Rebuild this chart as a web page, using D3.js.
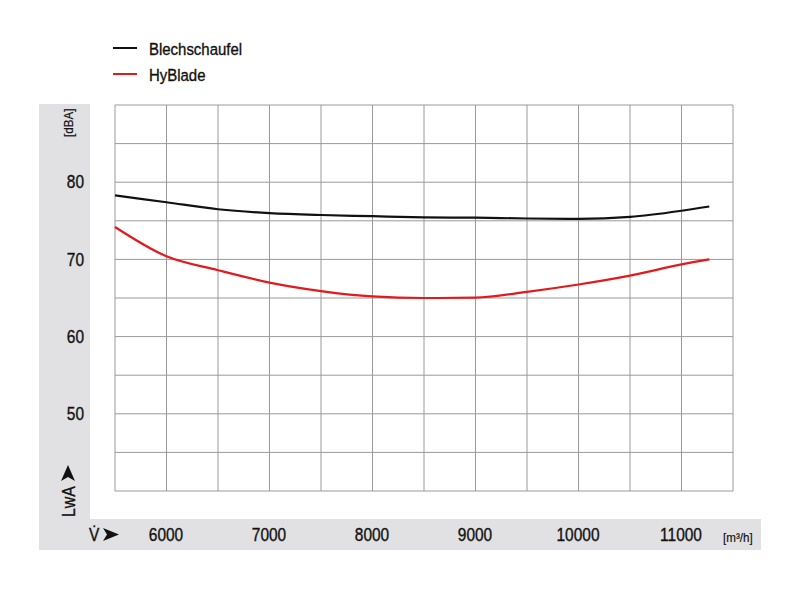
<!DOCTYPE html>
<html>
<head>
<meta charset="utf-8">
<script src="https://cdn.jsdelivr.net/npm/d3@7"></script>
<style>
  html, body { margin: 0; padding: 0; background: #fff; }
  svg { display: block; }
  text { font-family: "Liberation Sans", Arial, sans-serif; fill: #111; stroke: #111; stroke-width: 0.35px; }
</style>
</head>
<body>
<svg id="chart" width="800" height="590"></svg>
<script>
// ---- data ----
const flow = [5500, 6000, 6500, 7000, 7500, 8000, 8500, 9000, 9500, 10000, 10500, 11000, 11270];
const blechschaufel = [78.3, 77.4, 76.5, 76.0, 75.75, 75.6, 75.45, 75.4, 75.3, 75.25, 75.5, 76.3, 76.85];
const hyblade = [74.2, 70.4, 68.6, 67.0, 65.9, 65.2, 65.0, 65.05, 65.8, 66.75, 67.9, 69.35, 70.0];
const seriesNames = ["Blechschaufel", "HyBlade"];
const seriesColors = ["#111111", "#e3191b"];
const xTickLabels = [6000, 7000, 8000, 9000, 10000, 11000];
const yTickLabels = [50, 60, 70, 80];
const xDomain = [5500, 11500];
const yDomain = [40, 90];
const xGrid = d3.range(5500, 11501, 500);
const yGrid = d3.range(40, 91, 5);

// ---- layout ----
const FONT = '"Liberation Sans", Arial, sans-serif';
const SQ = 0.86; // horizontal condensing of text
const svg = d3.select("#chart");
const plot = { left: 115, right: 733, top: 105, bottom: 491 };
const x = d3.scaleLinear().domain(xDomain).range([plot.left, plot.right]);
const y = d3.scaleLinear().domain(yDomain).range([plot.bottom, plot.top]);
const grey = "#e1e1e3";

svg.append("rect").attr("x", 39).attr("y", 104).attr("width", 51).attr("height", 446).attr("fill", grey);
svg.append("rect").attr("x", 39).attr("y", 519).attr("width", 722).attr("height", 31).attr("fill", grey);

const g = svg.append("g");
g.selectAll(".vg").data(xGrid).enter().append("line")
  .attr("x1", d => x(d)).attr("x2", d => x(d))
  .attr("y1", plot.top).attr("y2", plot.bottom)
  .attr("stroke", "#9a9a9a").attr("stroke-width", 1);
g.selectAll(".hg").data(yGrid).enter().append("line")
  .attr("x1", plot.left).attr("x2", plot.right)
  .attr("y1", d => y(d)).attr("y2", d => y(d))
  .attr("stroke", "#9a9a9a").attr("stroke-width", 1);

const yAxis = d3.axisLeft(y).tickValues(yTickLabels).tickSize(0).tickPadding(0).tickFormat(d3.format("d"));
const ya = svg.append("g").attr("transform", "translate(84,0)").call(yAxis);
ya.attr("font-family", FONT);
ya.select(".domain").remove();
ya.selectAll("text").attr("font-size", 18).attr("fill", "#111").attr("x", 0)
  .attr("transform", `scale(${SQ},1)`);

const xAxis = d3.axisBottom(x).tickValues(xTickLabels).tickSize(0).tickPadding(0).tickFormat(d3.format("d"));
const xa = svg.append("g").attr("transform", "translate(-1,528)").call(xAxis);
xa.attr("font-family", FONT);
xa.select(".domain").remove();
xa.selectAll("text").attr("font-size", 18).attr("fill", "#111").attr("y", 0).attr("dy", "0.71em")
  .attr("transform", `scale(${SQ},1)`);

svg.append("text").attr("transform", `translate(723,542) scale(${SQ},1)`).attr("font-size", 13.5).style("stroke-width", "0.2px").text("[m³/h]");
svg.append("text").attr("transform", `translate(73,137) rotate(-90) scale(${SQ},1)`).attr("font-size", 13.5).style("stroke-width", "0.2px").text("[dBA]");

const lwa = svg.append("g").attr("transform", "translate(75,517) rotate(-90)");
lwa.append("text").attr("transform", `scale(${SQ},1)`).attr("font-size", 18.5).text("LwA");
lwa.append("path").attr("d", "M36,-14 L52,-7 L36,0 L40,-7 Z").attr("fill", "#111");

svg.append("text").attr("transform", `translate(89,541) scale(${SQ},1)`).attr("font-size", 18).text("V̇");
svg.append("path").attr("d", "M103,528 L119,534.5 L103,541 L107,534.5 Z").attr("fill", "#111");

const line = d3.line().x(d => x(d[0])).y(d => y(d[1])).curve(d3.curveMonotoneX);
[blechschaufel, hyblade].forEach((vals, i) => {
  svg.append("path")
    .datum(flow.map((f, j) => [f, vals[j]]))
    .attr("d", line).attr("fill", "none")
    .attr("stroke", seriesColors[i]).attr("stroke-width", 2.2);
});

seriesNames.forEach((name, i) => {
  const ly = 48 + i * 26;
  svg.append("line").attr("x1", 113).attr("x2", 137).attr("y1", ly).attr("y2", ly)
    .attr("stroke", seriesColors[i]).attr("stroke-width", 2);
  svg.append("text").attr("transform", `translate(149,${ly + 7}) scale(0.88,1)`).attr("font-size", 17).text(name);
});
</script>
</body>
</html>
